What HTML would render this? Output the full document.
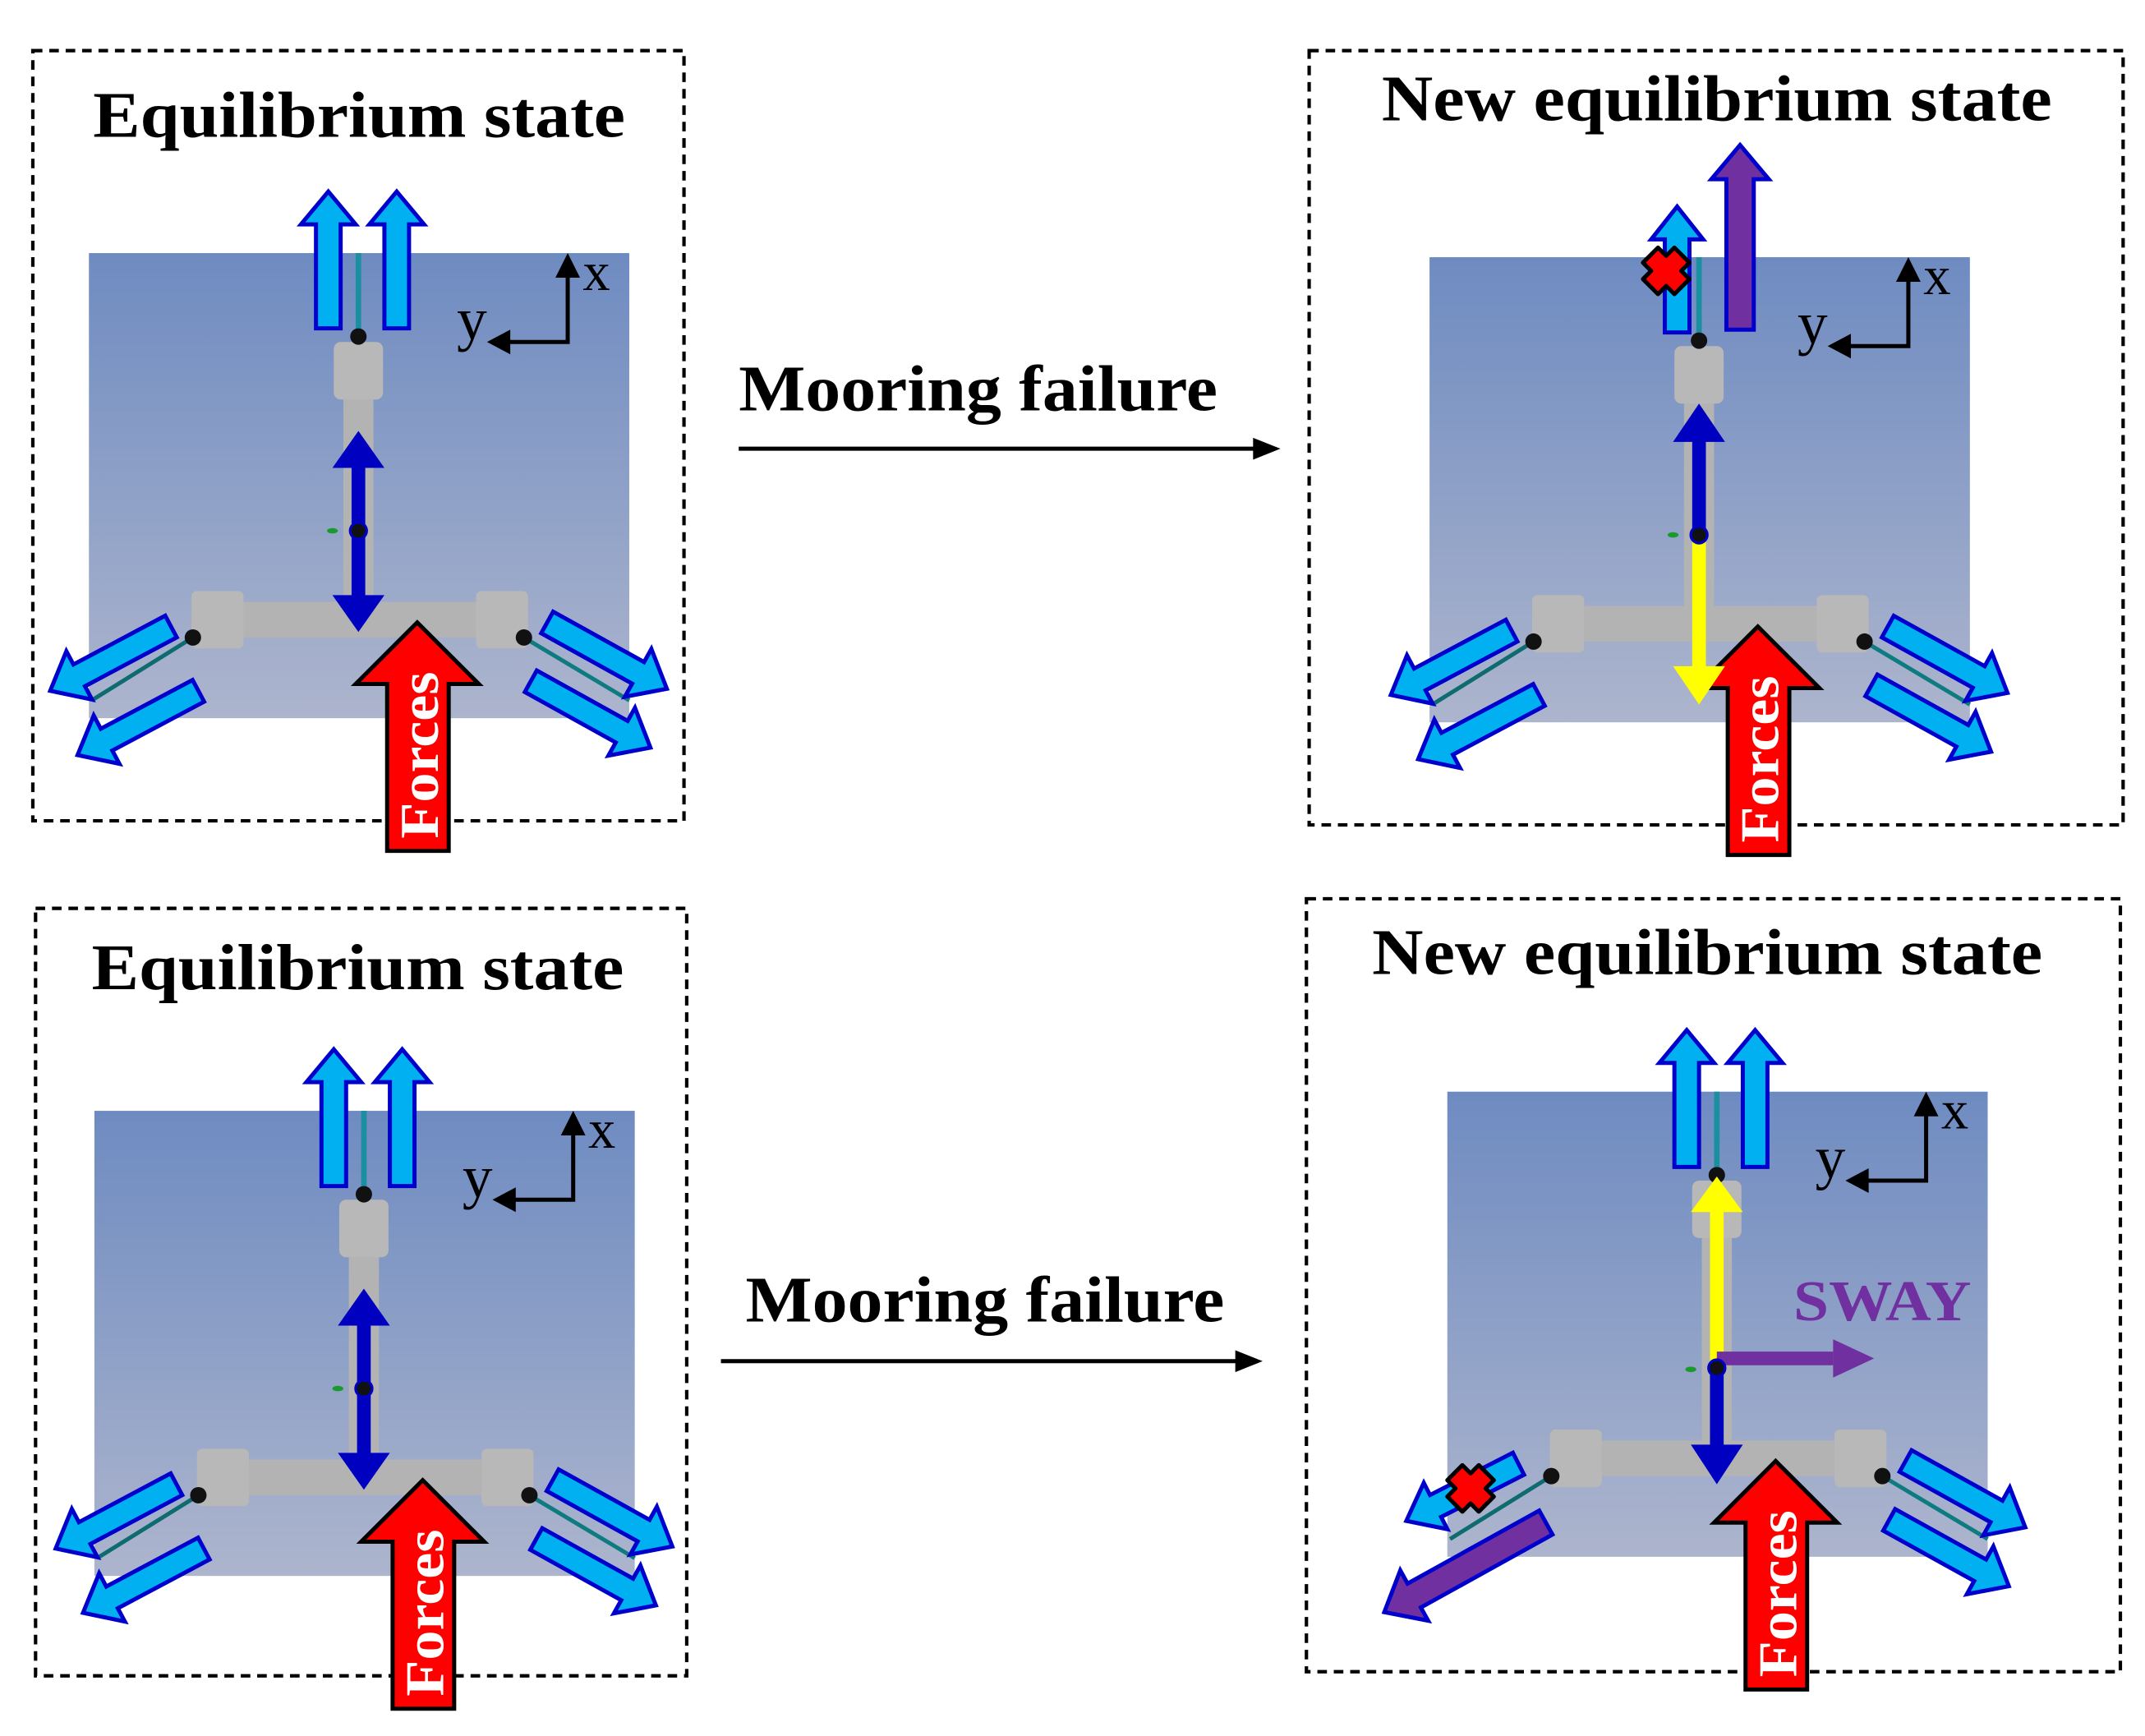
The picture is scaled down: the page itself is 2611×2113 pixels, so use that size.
<!DOCTYPE html>
<html><head><meta charset="utf-8"><style>
html,body{margin:0;padding:0;background:#fff}
svg{display:block}
text{font-family:"Liberation Serif",serif;font-weight:bold}
</style></head><body>
<svg width="2611" height="2113" viewBox="0 0 1568 1269" preserveAspectRatio="none" xmlns="http://www.w3.org/2000/svg">
<defs>
<linearGradient id="bg" x1="0" y1="0" x2="0" y2="1">
<stop offset="0" stop-color="#6e8bc1"/><stop offset="1" stop-color="#adb5cd"/>
</linearGradient>
<polygon id="la" points="0,-9 76,-9 76,-20 100,0 76,20 76,9 0,9" fill="#00b0f0" stroke="#0000cc" stroke-width="3"/>
<polygon id="lashort" points="0,-9 68,-9 68,-19 92,0 68,19 68,9 0,9" fill="#00b0f0" stroke="#0000cc" stroke-width="3"/>
<polygon id="pa" points="0,-10 110,-10 110,-21 135,0 110,21 110,10 0,10" fill="#7030a0" stroke="#0000cc" stroke-width="3"/>
<g id="xmark">
<polygon points="-6,-17 0,-11 6,-17 17,-6 11,0 17,6 6,17 0,11 -6,17 -17,6 -11,0 -17,-6" fill="#ff0000" stroke="#000" stroke-width="3" stroke-linejoin="round"/>
</g>
<g id="base">
<rect x="65" y="185" width="395" height="340" fill="url(#bg)"/>
<rect x="251" y="260" width="22" height="190" fill="#b3b3b3"/>
<rect x="244" y="250" width="36" height="42" rx="5" fill="#b8b8b8"/>
<rect x="140" y="440" width="245" height="26" fill="#b3b3b3"/>
<rect x="140" y="432" width="38" height="42" rx="4" fill="#b8b8b8"/>
<rect x="348" y="432" width="38" height="42" rx="4" fill="#b8b8b8"/>
<line x1="262" y1="246" x2="262" y2="185" stroke="#1a8fa0" stroke-width="4"/>
<line x1="141" y1="466" x2="67" y2="512" stroke="#0e6b70" stroke-width="3"/>
<line x1="383" y1="466" x2="460" y2="512" stroke="#0e7b80" stroke-width="3"/>
<circle cx="262" cy="246" r="6" fill="#111"/>
<circle cx="141" cy="466" r="6" fill="#111"/>
<circle cx="383" cy="466" r="6" fill="#111"/>
<ellipse cx="243" cy="388" rx="4" ry="2" fill="#1a9a2a"/>
<polyline points="415,200 415,250 368,250" fill="none" stroke="#000" stroke-width="3"/>
<polygon points="415,185 406,203 424,203" fill="#000"/>
<polygon points="356,250 373,241 373,259" fill="#000"/>
<text x="426" y="212" font-size="40" style="font-weight:normal">x</text>
<text x="334" y="248" font-size="44" style="font-weight:normal">y</text>
<polygon points="305,455 350,500 328,500 328,622 283,622 283,500 260,500" fill="#ff0000" stroke="#000" stroke-width="3" stroke-linejoin="miter"/>
<text transform="translate(320,552) rotate(-90)" text-anchor="middle" font-size="40" fill="#fff" textLength="122" lengthAdjust="spacingAndGlyphs">Forces</text>
</g>
<g id="sides">
<use href="#la" transform="translate(125,458) rotate(152)"/>
<use href="#la" transform="translate(145,505) rotate(152)"/>
<use href="#la" transform="translate(400,455) rotate(29)"/>
<use href="#la" transform="translate(388,498) rotate(29)"/>
</g>
<g id="tops">
<use href="#la" transform="translate(240,240) rotate(-90)"/>
<use href="#la" transform="translate(290,240) rotate(-90)"/>
</g>
<g id="dbl">
<rect x="257" y="335" width="10" height="105" fill="#0000c0"/>
<polygon points="262,315 281,342 243,342" fill="#0000c0"/>
<polygon points="262,462 281,435 243,435" fill="#0000c0"/>
<circle cx="262" cy="388" r="6" fill="#111" stroke="#0000c0" stroke-width="2"/>
</g>
</defs>

<!-- Panel 1 -->
<rect x="24" y="37" width="476" height="563" fill="none" stroke="#000" stroke-width="2.5" stroke-dasharray="7,5"/>
<text x="68" y="100" font-size="48" textLength="389" lengthAdjust="spacingAndGlyphs">Equilibrium state</text>
<use href="#base"/><use href="#sides"/><use href="#tops"/><use href="#dbl"/>

<!-- Panel 2 -->
<rect x="957" y="37" width="595" height="566" fill="none" stroke="#000" stroke-width="2.5" stroke-dasharray="7,5"/>
<text x="1010" y="88" font-size="48" textLength="490" lengthAdjust="spacingAndGlyphs">New equilibrium state</text>
<g transform="translate(980,3)">
<use href="#base"/><use href="#sides"/>
<use href="#lashort" transform="translate(246,240) rotate(-90)"/>
<use href="#pa" transform="translate(292,238) rotate(-90)"/>
<use href="#xmark" transform="translate(238,195)"/>
<rect x="257" y="318" width="10" height="70" fill="#0000c0"/>
<polygon points="262,292 281,320 243,320" fill="#0000c0"/>
<rect x="257" y="390" width="10" height="95" fill="#ffff00"/>
<polygon points="262,512 281,484 243,484" fill="#ffff00"/>
<circle cx="262" cy="388" r="6" fill="#111" stroke="#0000c0" stroke-width="2"/>
</g>

<!-- Panel 3 -->
<rect x="26" y="664" width="476" height="561" fill="none" stroke="#000" stroke-width="2.5" stroke-dasharray="7,5"/>
<text x="67" y="723" font-size="48" textLength="389" lengthAdjust="spacingAndGlyphs">Equilibrium state</text>
<g transform="translate(4,627)">
<use href="#base"/><use href="#sides"/><use href="#tops"/><use href="#dbl"/>
</g>

<!-- Panel 4 -->
<rect x="955" y="657" width="595" height="565" fill="none" stroke="#000" stroke-width="2.5" stroke-dasharray="7,5"/>
<text x="1003" y="712" font-size="48" textLength="490" lengthAdjust="spacingAndGlyphs">New equilibrium state</text>
<g transform="translate(993,613)">
<use href="#base"/><use href="#tops"/>
<use href="#la" transform="translate(400,455) rotate(29)"/>
<use href="#la" transform="translate(388,498) rotate(29)"/>
<use href="#lashort" transform="translate(117,457) rotate(153)"/>
<use href="#pa" transform="translate(137,500) rotate(151)"/>
<use href="#xmark" transform="translate(82,475)"/>
<rect x="257" y="270" width="10" height="115" fill="#ffff00"/>
<polygon points="262,247 281,273 243,273" fill="#ffff00"/>
<rect x="262" y="375" width="85" height="10" fill="#7030a0"/>
<polygon points="377,380 347,366 347,394" fill="#7030a0"/>
<rect x="257" y="390" width="10" height="55" fill="#0000c0"/>
<polygon points="262,472 281,443 243,443" fill="#0000c0"/>
<circle cx="262" cy="387" r="6" fill="#111" stroke="#0000c0" stroke-width="2"/>
<text x="318" y="352" font-size="42" fill="#7030a0" textLength="130" lengthAdjust="spacingAndGlyphs">SWAY</text>
</g>

<!-- transitions -->
<text x="540" y="300" font-size="48" textLength="350" lengthAdjust="spacingAndGlyphs">Mooring failure</text>
<line x1="540" y1="328" x2="920" y2="328" stroke="#000" stroke-width="3"/>
<polygon points="936,328 916,320 916,336" fill="#000"/>
<text x="545" y="966" font-size="48" textLength="350" lengthAdjust="spacingAndGlyphs">Mooring failure</text>
<line x1="527" y1="995" x2="907" y2="995" stroke="#000" stroke-width="3"/>
<polygon points="923,995 903,987 903,1003" fill="#000"/>
</svg>
</body></html>
